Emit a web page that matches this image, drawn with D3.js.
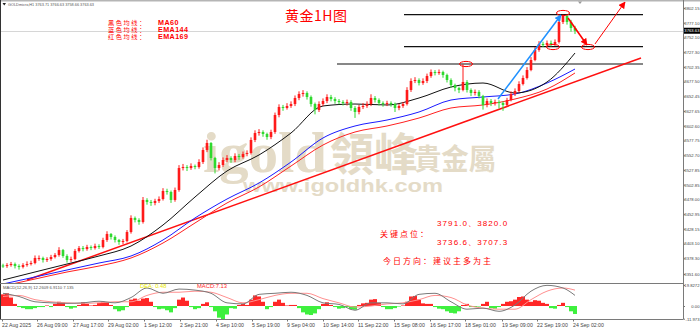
<!DOCTYPE html>
<html>
<head>
<meta charset="utf-8">
<title>黄金1H图</title>
<script src="https://cdn.jsdelivr.net/npm/d3@7/dist/d3.min.js"></script>
<style>
    body { margin: 0; background: #fff; }
</style>
</head>
<body>
<div id="chart"></div>
<script>
// Candles (one candle = ~4 bars of the H1 chart), open = previous close
var firstOpen = 3366.0;
var closes = [
    3365.1,3366.8,3368.5,3365.1,3363.5,3366.8,3368.5,3370.2,3378.7,3378.7,
    3375.3,3377.0,3380.4,3383.8,3392.2,3382.1,3375.3,3377.0,3390.6,3395.6,
    3393.9,3397.3,3395.6,3399.0,3397.3,3409.2,3419.4,3414.3,3409.2,3405.8,
    3407.5,3422.7,3446.5,3443.1,3439.7,3477.0,3473.6,3471.9,3475.3,3478.6,
    3492.2,3490.5,3477.0,3493.9,3531.1,3532.8,3531.1,3534.5,3532.8,3541.3,
    3561.6,3573.5,3548.1,3531.1,3536.2,3544.7,3548.1,3544.7,3551.5,3549.8,
    3554.9,3556.6,3578.6,3590.4,3592.1,3588.7,3583.6,3592.1,3620.9,3634.5,
    3632.8,3636.2,3639.5,3649.7,3656.5,3658.2,3651.4,3639.5,3629.4,3639.5,
    3644.6,3651.4,3648.0,3644.6,3642.9,3641.2,3642.9,3632.8,3626.0,3634.5,
    3636.2,3639.5,3649.7,3646.3,3641.2,3639.5,3641.2,3639.5,3632.8,3636.2,
    3639.5,3663.3,3678.5,3680.2,3675.1,3678.5,3687.0,3693.7,3692.1,3693.7,
    3688.7,3680.2,3671.7,3666.6,3663.3,3676.8,3663.3,3658.2,3660.0,3653.1,
    3637.9,3644.6,3641.2,3642.9,3641.2,3637.9,3646.3,3656.5,3661.6,3673.4,
    3683.6,3697.1,3714.1,3731.0,3741.2,3739.5,3742.9,3741.2,3744.6,3778.4,
    3788.6,3778.4,3768.3,3763.6
];
var highs = [
    3369,3370,3372,3371,3368,3370,3373,3374,3383,3383,
    3381,3380,3384,3387,3397,3394,3385,3381,3394,3399,
    3399,3401,3400,3403,3402,3413,3424,3421,3417,3411,
    3411,3426,3451,3449,3446,3482,3480,3477,3479,3483,
    3497,3496,3493,3498,3536,3538,3536,3539,3537,3546,
    3566,3579,3575,3550,3541,3549,3553,3551,3556,3555,
    3559,3561,3583,3595,3597,3595,3591,3596,3625,3639,
    3638,3641,3644,3654,3661,3663,3661,3654,3642,3644,
    3649,3656,3655,3651,3648,3646,3647,3646,3636,3638,
    3641,3644,3656,3653,3649,3644,3645,3644,3642,3640,
    3643,3668,3683,3685,3683,3683,3691,3698,3697,3698,
    3696,3691,3683,3674,3669,3707,3680,3666,3664,3663,
    3655,3649,3648,3647,3646,3644,3650,3661,3666,3678,
    3688,3702,3719,3736,3746,3745,3747,3747,3749,3783,
    3791,3790,3782,3772
];
var lows = [
    3362,3362,3364,3361,3359,3361,3364,3366,3368,3374,
    3371,3372,3374,3378,3381,3379,3371,3372,3375,3388,
    3390,3391,3392,3393,3394,3395,3406,3410,3405,3401,
    3402,3405,3420,3439,3435,3437,3469,3467,3468,3472,
    3476,3486,3472,3474,3491,3527,3526,3528,3529,3530,
    3538,3558,3544,3522,3527,3533,3541,3540,3541,3545,
    3547,3551,3554,3575,3586,3584,3579,3580,3589,3617,
    3628,3630,3633,3636,3646,3652,3647,3635,3622,3626,
    3636,3641,3644,3640,3639,3637,3637,3628,3616,3622,
    3631,3633,3636,3642,3637,3635,3636,3635,3626,3629,
    3633,3637,3660,3675,3671,3672,3675,3684,3688,3689,
    3684,3676,3667,3661,3658,3661,3659,3653,3654,3649,
    3630,3634,3636,3637,3632,3628,3635,3644,3653,3659,
    3671,3681,3695,3712,3728,3736,3736.6,3737,3738,3742,
    3775,3774,3762,3758
];
var lastPrice = 3763.63;

// Moving averages, read at every 8th candle
var maIdx  = [0, 8, 16, 24, 32, 40, 48, 56, 64, 72, 80, 88, 96, 104, 112, 120, 128, 136, 143];
var ma60   = [3341.4,3355.0,3368.5,3382.1,3399.0,3434.6,3482.0,3526.1,3553.2,3590.4,3636.2,3639.5,3637.9,3649.7,3668.3,3675.1,3658.2,3676.8,3725.9];
var ema144 = [3334.7,3346.5,3358.4,3370.2,3382.1,3409.2,3446.5,3478.6,3505.7,3541.3,3582.0,3602.3,3612.4,3626.0,3646.3,3651.4,3656.5,3675.1,3698.8];
var ema169 = [3331.3,3343.1,3355.0,3365.1,3378.7,3404.1,3438.0,3471.9,3499.0,3534.5,3570.1,3592.1,3602.3,3615.8,3632.8,3637.9,3648.0,3664.9,3692.1];

// Hand drawn things: trend line, levels, circles and arrows (candle index, price)
var trendLine = [[6, 3341.4], [159.5, 3717.5]];
var levelVals = [3791.0, 3736.6, 3707.3];
var levelFrom = [100.25, 100.25, 83.5];
var levelTo = 160;
var circles = [[115.75, 3707.3], [140, 3793.7], [137.5, 3736.1], [146.25, 3736.1]];
var blueArrow = [[123.75, 3648.0], [139.5, 3790.3]];
var redDown = [[141.25, 3785.2], [146, 3739.5]];
var redUp = [[148, 3741.2], [155.5, 3812.3]];

// MACD
var hist = [
    11,12,8,2,-1,-2,-3,-3,-2,-1,
    -1,0.5,-1,2,4,3,-1,-2.5,-1.5,1,
    3.5,2,0.5,1,3,4,3.5,1,-3,-5,
    -4,-1,6,7,5,7,7.5,4,-1,-3,
    -2.5,-4,-6,-2,6,8,5,-1,-3,-2,
    2,3.5,-1,-5,-11,-12.5,-8,-2,-2.5,1,
    2,1,6,10,9,4,-3,-1,4,6,
    3,0.5,1,1,-2,-6,-8,-8.5,-7,-3,
    2,3.5,1,-1,-2.5,-2,-1,-3,-3.5,1,
    2.5,3,6,6.5,3,-1,-3,-3,-2,-0.5,
    0.5,4,9,9.5,6,2.5,2,2,-1,-2.5,
    -3,-5,-6.5,-7,-5,1,2,-1,-1,-0.5,
    2,4,-2,-2.5,-1,2,4,4.5,6,8.5,
    9,6,4,5.5,5,3,2,-2,-2.5,1,
    3,-1,-5,-7.5
];
var difIdx = [0,4,8,12,16,20,24,28,32,36,40,44,48,52,56,60,64,68,72,76,80,84,88,92,96,100,104,108,112,116,120,124,128,132,136,140,143];
var difVals = [12,9,4,3,2.5,3,4.5,3,8,17,12,16,15,12,3,2,11,12,13,10,3,1.5,-4,3,3,2,11,12,4,-3,-2,-5,1,14,19.5,17,10];
var deaVals = [9,10,6,4,3,2.5,3,4,4,10,13,13,14,13,8,3,6,10,12,12,7,3,-1,0,2,3,6,10,8,1,-2,-3,-3,6,14,17,15];

// Axis labels
var priceTicks = [3802.15,3777.10,3752.10,3727.30,3702.35,3677.50,3652.45,3627.65,3602.60,3577.75,3552.70,3527.85,3502.85,3478.00,3452.95,3428.15,3403.10,3378.30,3351.60];
var macdTicks = [19.8272, 0, -11.973];
var macdLabels = ['19.8272', '0.00', '-11.973'];
var timeIdx = [-0.25, 8.5, 17.5, 26.25, 35.25, 44.25, 53.25, 62.25, 71, 80, 88.75, 97.75, 106.75, 115.5, 124.75, 133.5, 142.5];
var timeLabels = ['22 Aug 2025','26 Aug 09:00','27 Aug 17:00','29 Aug 02:00','1 Sep 12:00','2 Sep 21:00','4 Sep 10:00','5 Sep 19:00','9 Sep 04:00','10 Sep 14:00','11 Sep 22:00','15 Sep 08:00','16 Sep 17:00','18 Sep 01:00','19 Sep 09:00','22 Sep 19:00','24 Sep 02:00'];

var legendCjk = ['黑色均线：', '蓝色均线：', '红色均线：'];
var legendName = ['MA60', 'EMA144', 'EMA169'];

var svg, x, y, ym;
var RIGHT = 683, MAIN_BOTTOM = 283, MACD_TOP = 284, MACD_BOTTOM = 319.5;
var CJK = '"Noto Sans CJK SC", sans-serif';

function init() {
    svg = d3.select('#chart').append('svg')
        .attr('width', 700)
        .attr('height', 328)
        .style('font-family', '"Liberation Sans", Arial, sans-serif');

    svg.append('rect').attr('width', 700).attr('height', 328).attr('fill', '#fff');

    x = d3.scaleLinear().domain([0, 143]).range([3, 575]);
    y = d3.scaleLinear().domain([3351.60, 3802.15]).range([274, 8]);
    ym = d3.scaleLinear().domain([-11.973, 19.8272]).range([318.7, 285]);

    var defs = svg.append('defs');
    defs.append('clipPath').attr('id', 'clipMain')
        .append('rect').attr('x', 1).attr('y', 1).attr('width', RIGHT - 1).attr('height', MAIN_BOTTOM - 1);
    defs.append('clipPath').attr('id', 'clipMacd')
        .append('rect').attr('x', 1).attr('y', MACD_TOP).attr('width', RIGHT - 1).attr('height', MACD_BOTTOM - MACD_TOP);
    addArrowHead(defs, 'headBlue', '#1e90ff');
    addArrowHead(defs, 'headRed', '#ff0000');

    drawWatermark();
    var main = svg.append('g').attr('clip-path', 'url(#clipMain)');
    drawLevels(main);
    drawMAs(main);
    drawCandles(main);
    drawMarks(main);
    drawTexts();
    drawMacd();
    drawFrame();
    drawAxes();
}

function addArrowHead(defs, id, color) {
    defs.append('marker')
        .attr('id', id)
        .attr('viewBox', '0 0 10 10')
        .attr('refX', 9).attr('refY', 5)
        .attr('markerWidth', 7).attr('markerHeight', 7)
        .attr('markerUnits', 'userSpaceOnUse')
        .attr('orient', 'auto')
        .append('path').attr('d', 'M0,0 L10,5 L0,10 z').attr('fill', color);
}

/**
 * The beige igold logo behind the candles (one text, several tspans)
 */
function drawWatermark() {
    var t = svg.append('text').attr('fill', '#e4dbc7').attr('font-weight', 'bold');
    t.append('tspan').attr('x', 203).attr('y', 172)
        .attr('font-family', '"Liberation Serif", serif').attr('font-size', 56)
        .attr('textLength', 124).attr('lengthAdjust', 'spacingAndGlyphs')
        .text('igold');
    t.append('tspan').attr('x', 330).attr('y', 171)
        .attr('font-family', '"Noto Sans CJK TC", sans-serif').attr('font-size', 45)
        .attr('textLength', 88).attr('lengthAdjust', 'spacingAndGlyphs')
        .text('領峰');
    t.append('tspan').attr('x', 414).attr('y', 170)
        .attr('font-family', '"Noto Sans CJK TC", sans-serif').attr('font-size', 29)
        .attr('textLength', 82).attr('lengthAdjust', 'spacingAndGlyphs')
        .text('貴金屬');
    t.append('tspan').attr('x', 243).attr('y', 192)
        .attr('font-size', 19)
        .attr('textLength', 200).attr('lengthAdjust', 'spacingAndGlyphs')
        .text('www.igoldhk.com');
}

function drawLevels(g) {
    // bid line
    g.append('line')
        .attr('x1', 1).attr('x2', RIGHT)
        .attr('y1', Math.round(y(lastPrice)) + 0.5).attr('y2', Math.round(y(lastPrice)) + 0.5)
        .attr('stroke', '#d6d6d6').attr('stroke-width', 1);

    g.selectAll('.level')
        .data(levelVals)
        .join('line')
        .attr('class', 'level')
        .attr('x1', function (d, i) { return x(levelFrom[i]); })
        .attr('x2', x(levelTo))
        .attr('y1', function (d) { return y(d); })
        .attr('y2', function (d) { return y(d); })
        .attr('stroke', '#111').attr('stroke-width', 1.2);

    g.append('line')
        .attr('x1', x(trendLine[0][0])).attr('y1', y(trendLine[0][1]))
        .attr('x2', x(trendLine[1][0])).attr('y2', y(trendLine[1][1]))
        .attr('stroke', '#ff1010').attr('stroke-width', 1.5);
}

function drawMAs(g) {
    var series = [
        {vals: ema169, color: '#ff2020'},
        {vals: ema144, color: '#1a1aff'},
        {vals: ma60, color: '#111'}
    ];
    var line = d3.line()
        .x(function (d) { return x(d[0]); })
        .y(function (d) { return y(d[1]); })
        .curve(d3.curveMonotoneX);

    series.forEach(function (s) {
        g.append('path')
            .attr('d', line(maIdx.map(function (d, i) { return [d, s.vals[i]]; })))
            .attr('fill', 'none')
            .attr('stroke', s.color)
            .attr('stroke-width', 1);
    });
}

function drawCandles(g) {
    var candles = closes.map(function (c, i) {
        return {i: i, o: i ? closes[i - 1] : firstOpen, h: highs[i], l: lows[i], c: c};
    });
    var colorOf = function (d) { return d.c >= d.o ? '#ff1a1a' : '#2fd92f'; };

    var cg = g.append('g').selectAll('g')
        .data(candles)
        .join('g');

    cg.append('line')
        .attr('x1', function (d) { return x(d.i); })
        .attr('x2', function (d) { return x(d.i); })
        .attr('y1', function (d) { return y(d.h); })
        .attr('y2', function (d) { return y(d.l); })
        .attr('stroke', colorOf)
        .attr('stroke-width', 1);

    cg.append('rect')
        .attr('x', function (d) { return x(d.i) - 1.3; })
        .attr('width', 2.6)
        .attr('y', function (d) { return y(Math.max(d.o, d.c)); })
        .attr('height', function (d) { return Math.max(1, Math.abs(y(d.o) - y(d.c))); })
        .attr('fill', colorOf);
}

function drawMarks(g) {
    g.selectAll('.circle')
        .data(circles)
        .join('ellipse')
        .attr('class', 'circle')
        .attr('cx', function (d) { return x(d[0]); })
        .attr('cy', function (d) { return y(d[1]); })
        .attr('rx', 6.5).attr('ry', 2.6)
        .attr('fill', 'none').attr('stroke', '#ff0000').attr('stroke-width', 1);

    var arrows = [
        {p: blueArrow, color: '#1e90ff', w: 1.5, head: 'headBlue'},
        {p: redDown, color: '#ff0000', w: 1.6, head: 'headRed'},
        {p: redUp, color: '#ff0000', w: 1, head: 'headRed'}
    ];
    arrows.forEach(function (a) {
        svg.append('line')
            .attr('x1', x(a.p[0][0])).attr('y1', y(a.p[0][1]))
            .attr('x2', x(a.p[1][0])).attr('y2', y(a.p[1][1]))
            .attr('stroke', a.color).attr('stroke-width', a.w)
            .attr('marker-end', 'url(#' + a.head + ')');
    });
}

function drawTexts() {
    var red = '#ff0000';

    svg.append('text').attr('x', 285).attr('y', 21)
        .attr('font-family', CJK).attr('font-size', 14).attr('letter-spacing', 0.5)
        .attr('fill', red).text('黄金1H图');

    // legend: one text with a line per average, rows packed tight as in the original
    var legend = svg.append('text').attr('fill', red).attr('font-size', 6.2);
    legendCjk.forEach(function (t, i) {
        legend.append('tspan').attr('x', 108).attr('y', 25.3 + i * 6.7)
            .attr('font-family', CJK).attr('letter-spacing', 1.6).text(t);
        legend.append('tspan').attr('x', 158).attr('y', 25.3 + i * 6.7)
            .attr('font-weight', 'bold').attr('font-size', 7.2).attr('letter-spacing', 0.4)
            .text(legendName[i]);
    });

    svg.append('text').attr('x', 380).attr('y', 236.5)
        .attr('font-family', CJK).attr('font-size', 8).attr('letter-spacing', 2)
        .attr('fill', red).text('关键点位：');
    svg.append('text').attr('x', 437).attr('y', 226)
        .attr('font-size', 8).attr('letter-spacing', 1.1).attr('fill', red)
        .text(levelVals[0].toFixed(1) + '、3820.0');
    svg.append('text').attr('x', 437).attr('y', 244.5)
        .attr('font-size', 8).attr('letter-spacing', 1.1).attr('fill', red)
        .text(levelVals[1].toFixed(1) + '、' + levelVals[2].toFixed(1));
    svg.append('text').attr('x', 383).attr('y', 263.5)
        .attr('font-family', CJK).attr('font-size', 8).attr('letter-spacing', 2)
        .attr('fill', red).text('今日方向：建议主多为主');

    // chart header
    svg.append('path').attr('d', 'M2.5,3 L6,3 L4.25,5.5 z').attr('fill', '#222');
    svg.append('text').attr('x', 8).attr('y', 6)
        .attr('font-size', 4.4).attr('fill', '#555')
        .attr('textLength', 86).attr('lengthAdjust', 'spacingAndGlyphs')
        .text('GOLDmicro,H1  3763.71 3766.63 3758.66 3763.63');
}

function drawMacd() {
    var g = svg.append('g').attr('clip-path', 'url(#clipMacd)');

    g.selectAll('.bar')
        .data(hist)
        .join('rect')
        .attr('class', 'bar')
        .attr('x', function (d, i) { return x(i) - 2; })
        .attr('width', 4)
        .attr('y', function (d) { return ym(Math.max(0, d)); })
        .attr('height', function (d) { return Math.abs(ym(d) - ym(0)); })
        .attr('fill', function (d) { return d >= 0 ? '#ff2626' : '#3ef03e'; });

    var line = d3.line()
        .x(function (d) { return x(d[0]); })
        .y(function (d) { return ym(d[1]); })
        .curve(d3.curveMonotoneX);

    g.append('path')
        .attr('d', line(difIdx.map(function (d, i) { return [d, deaVals[i]]; })))
        .attr('fill', 'none').attr('stroke', '#ff8f8f').attr('stroke-width', 1);
    g.append('path')
        .attr('d', line(difIdx.map(function (d, i) { return [d, difVals[i]]; })))
        .attr('fill', 'none').attr('stroke', '#7a7a7a').attr('stroke-width', 1);

    svg.append('text').attr('x', 3).attr('y', 288.5)
        .attr('font-size', 4.2).attr('fill', '#555')
        .text('MACD(12,26,9) 12.2609 6.9110 7.135');
    svg.append('text').attr('x', 140).attr('y', 288)
        .attr('font-size', 5.8).attr('fill', '#e8e800').text('DEA: 0.48');
    svg.append('text').attr('x', 197).attr('y', 288)
        .attr('font-size', 5.8).attr('fill', '#ff2a2a').text('MACD:7.13');
}

function drawFrame() {
    var c = '#7a7a7a';
    svg.append('rect').attr('x', 0).attr('y', 0).attr('width', 700).attr('height', 1.5).attr('fill', '#b5b5b5');
    svg.append('line').attr('x1', 0.5).attr('x2', 0.5).attr('y1', 0).attr('y2', MACD_BOTTOM).attr('stroke', '#333');
    svg.append('line').attr('x1', RIGHT + 0.5).attr('x2', RIGHT + 0.5).attr('y1', 0).attr('y2', MACD_BOTTOM).attr('stroke', c);
    svg.append('line').attr('x1', 0).attr('x2', RIGHT).attr('y1', MAIN_BOTTOM + 0.5).attr('y2', MAIN_BOTTOM + 0.5).attr('stroke', c);
    svg.append('line').attr('x1', 0).attr('x2', RIGHT).attr('y1', MACD_BOTTOM).attr('y2', MACD_BOTTOM).attr('stroke', c);
    // chart shift marker
    svg.append('path').attr('d', 'M578,1.5 L582,1.5 L580,4 z').attr('fill', '#999');
}

function drawAxes() {
    var fmt = d3.format('.2f');

    var py = svg.append('g')
        .attr('transform', 'translate(' + (RIGHT + 0.5) + ',0)')
        .call(d3.axisRight(y).tickValues(priceTicks).tickSize(1.5).tickFormat(fmt));
    styleAxis(py, 4.2);
    py.selectAll('text').attr('x', 16).attr('text-anchor', 'end');

    // current price tag
    svg.append('rect').attr('x', RIGHT + 1).attr('y', y(lastPrice) - 3).attr('width', 17).attr('height', 6).attr('fill', '#000');
    svg.append('text').attr('x', 699.5).attr('y', y(lastPrice) + 1.6).attr('text-anchor', 'end')
        .attr('font-size', 4.2).attr('fill', '#fff').text(fmt(lastPrice));

    var my = svg.append('g')
        .attr('transform', 'translate(' + (RIGHT + 0.5) + ',0)')
        .call(d3.axisRight(ym).tickValues(macdTicks).tickSize(1.5)
            .tickFormat(function (d, i) { return macdLabels[i]; }));
    styleAxis(my, 4.2);
    my.selectAll('text').attr('x', 16).attr('text-anchor', 'end');

    var tx = svg.append('g')
        .attr('transform', 'translate(0,' + MACD_BOTTOM + ')')
        .call(d3.axisBottom(x).tickValues(timeIdx).tickSize(2).tickPadding(1.5)
            .tickFormat(function (d, i) { return timeLabels[i]; }));
    styleAxis(tx, 5.2);
    tx.selectAll('text').attr('text-anchor', 'start').attr('dx', -0.5);
}

function styleAxis(g, size) {
    g.select('.domain').remove();
    g.selectAll('line').attr('stroke', '#777');
    g.selectAll('text').attr('font-size', size).attr('fill', '#444')
        .attr('font-family', '"Liberation Sans", Arial, sans-serif');
}

init();
</script>
</body>
</html>
